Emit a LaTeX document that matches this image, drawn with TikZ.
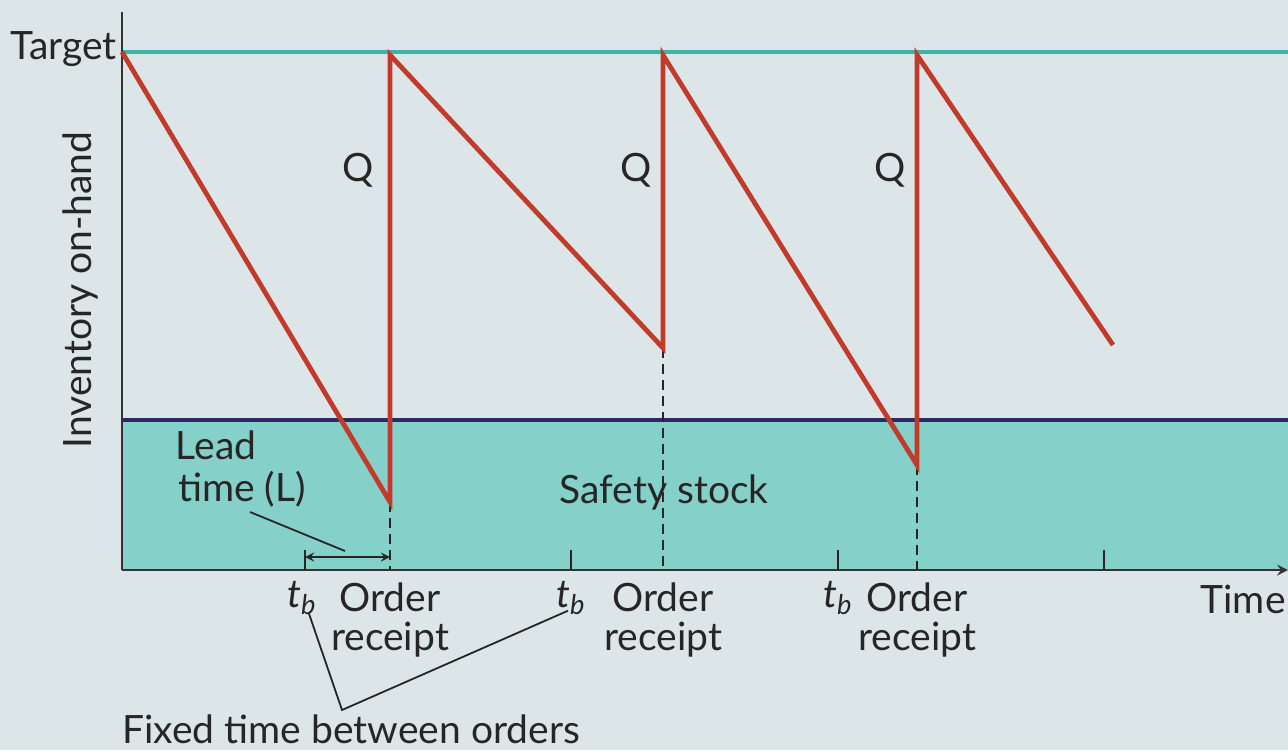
\documentclass[tikz,border=0pt]{standalone}
\usepackage{fontspec}
\setmainfont{Lato}
\usepackage{xcolor}
\usetikzlibrary{positioning, arrows}

\definecolor{bgcol}{HTML}{DCE6E8}
\definecolor{safecol}{HTML}{86D0CA}
\definecolor{targetcol}{HTML}{3DB4A9}
\definecolor{navycol}{HTML}{2B2A66}
\definecolor{sawcol}{HTML}{C23A2A}

\begin{document}
\begin{tikzpicture}[x=0.5pt, y=-0.5pt, >={stealth},
  lbl/.style={font=\fontsize{19.5}{22}\selectfont, inner sep=0pt, text=black!85},
  axisline/.style={line width=1.4pt, black!80},
  saw/.style={line width=2.4pt, sawcol, line join=miter},
  guide/.style={line width=1pt, dash pattern=on 5pt off 3pt, black!85},
  leader/.style={line width=0.9pt, black!85}]
  \useasboundingbox [fill=bgcol] (0,0) rectangle (1288,750);

  % safety stock band
  \fill [safecol] (122,420) rectangle (1288,570);
  \draw [line width=2.2pt, navycol] (122,420) -- (1288,420);
  \draw [line width=2.2pt, targetcol] (122,52) -- (1288,52);

  % axes
  \draw [axisline] (122,12) -- (122,570);
  \draw [axisline, ->] (122,570) -- (1288,570);

  % ticks
  \foreach \tx in {305, 571, 838, 1104}
    \draw [line width=1.1pt, black!85] (\tx,550) -- (\tx,570);

  % order receipts
  \coordinate (low1) at (390,502);
  \coordinate (low2) at (663,348);
  \coordinate (low3) at (917,465);
  \draw [guide] (low1) -- (390,570);
  \draw [guide] (low2) -- (663,570);
  \draw [guide] (low3) -- (917,570);

  % inventory level
  \draw [saw] (122,52) -- (low1) -- (390,55) -- (low2) -- (663,55) -- (low3) -- (917,55) -- (1113,345);

  % lead time
  \coordinate (ltl) at (305,557);
  \coordinate (ltr) at (390,557);
  \draw [line width=1pt, black!85, <->] (ltl) -- (ltr);
  \node (lead1) [lbl] at (216,445) {Lead};
  \node (lead2) [lbl] at (242,489) {time (L)};
  \draw [leader] (250,512) -- (345,551);

  % labels
  \node (target) [lbl, anchor=east] at (117,49) {Target};
  \node (yaxis) [lbl, rotate=90] at (80,290) {Inventory on-hand};
  \node (q1) [lbl] at (358,170) {Q};
  \node (q2) [lbl] at (636,170) {Q};
  \node (q3) [lbl] at (890,170) {Q};
  \node (safety) [lbl] at (664,492) {Safety stock};
  \node (time) [lbl, anchor=east] at (1286,599) {Time};

  \node (tb1) [lbl] at (302,598) {\textit{t\textsubscript{b}}};
  \node (tb2) [lbl] at (571,598) {\textit{t\textsubscript{b}}};
  \node (tb3) [lbl] at (838,598) {\textit{t\textsubscript{b}}};
  \node (ord1) [lbl] at (390,597) {Order};
  \node (rec1) [lbl] at (390,640) {receipt};
  \node (ord2) [lbl] at (663,597) {Order};
  \node (rec2) [lbl] at (663,640) {receipt};
  \node (ord3) [lbl] at (917,597) {Order};
  \node (rec3) [lbl] at (917,640) {receipt};

  \node (fixed) [lbl, anchor=west] at (122,729) {Fixed time between orders};
  \coordinate (vee) at (342,710);
  \draw [leader] (tb1.south) ++(7,-1) -- (vee) -- ([xshift=-9pt, yshift=2pt]tb2.south east);
\end{tikzpicture}
\end{document}
